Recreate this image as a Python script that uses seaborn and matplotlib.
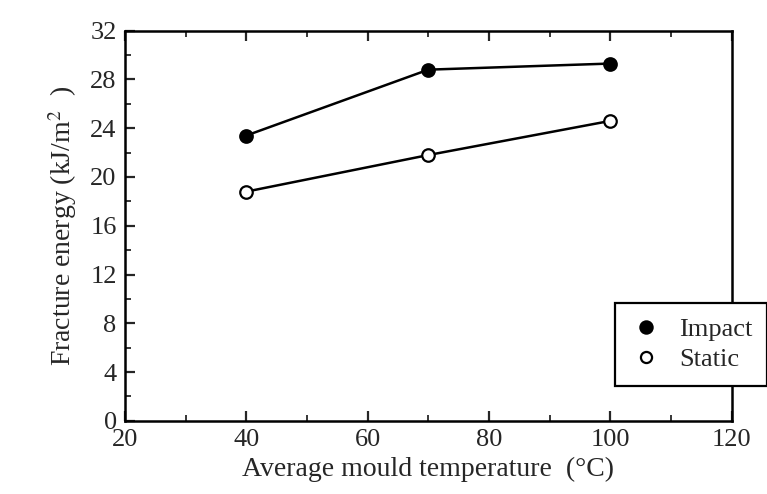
import matplotlib
matplotlib.use("Agg")
import matplotlib.pyplot as plt
import seaborn as sns
import pandas as pd
from matplotlib.lines import Line2D
from matplotlib.ticker import MultipleLocator

# data
temperature = [40, 70, 100]
impact_energy = [23.4, 28.8, 29.3]
static_energy = [18.8, 21.8, 24.6]

sns.set_style("ticks")
plt.rcParams["font.family"] = ["Liberation Serif", "DejaVu Serif"]
plt.rcParams["mathtext.fontset"] = "stix"

df = pd.DataFrame({
    "temp": temperature * 2,
    "energy": impact_energy + static_energy,
    "test": ["Impact"] * 3 + ["Static"] * 3,
})

fig = plt.figure(figsize=(7.67, 4.94), dpi=100)
ax = fig.add_axes([0.163, 0.148, 0.791, 0.79])

for name, face in [("Impact", "black"), ("Static", "white")]:
    sub = df[df["test"] == name]
    sns.lineplot(data=sub, x="temp", y="energy", ax=ax, color="black", lw=1.8,
                 marker="o", markersize=9, markerfacecolor=face,
                 markeredgecolor="black", markeredgewidth=1.6, legend=False)

ax.set_xlim(20, 120)
ax.set_ylim(0, 32)
ax.xaxis.set_major_locator(MultipleLocator(20))
ax.xaxis.set_minor_locator(MultipleLocator(10))
ax.yaxis.set_major_locator(MultipleLocator(4))
ax.yaxis.set_minor_locator(MultipleLocator(2))
ax.tick_params(which="major", direction="in", length=7, width=1.6, labelsize=19,
               top=True, right=False, labeltop=False)
ax.tick_params(which="minor", direction="in", length=4, width=1.3, top=True, right=False)
ax.tick_params(axis="x", pad=6)
ax.tick_params(axis="y", pad=6)
for s in ax.spines.values():
    s.set_linewidth(1.8)
    s.set_color("black")

ax.set_xlabel("Average mould temperature  (°C)", fontsize=20, labelpad=4)
ax.set_ylabel(r"Fracture energy (kJ/m$^{2}$  )", fontsize=20, labelpad=8)

handles = [
    Line2D([], [], ls="none", marker="o", markersize=9, markerfacecolor="black",
           markeredgecolor="black", markeredgewidth=1.4),
    Line2D([], [], ls="none", marker="o", markersize=8, markerfacecolor="white",
           markeredgecolor="black", markeredgewidth=1.6),
]
leg = ax.legend(handles, ["Impact", "Static"], loc="lower left",
                bbox_to_anchor=(0.807, 0.09), fontsize=19, frameon=True,
                fancybox=False, edgecolor="black", framealpha=1,
                handletextpad=0.6, borderpad=0.55, labelspacing=0.25,
                handlelength=1.3, borderaxespad=0)
leg.get_frame().set_linewidth(1.6)
leg.set_clip_on(False)

fig.savefig("out.png", dpi=100)
